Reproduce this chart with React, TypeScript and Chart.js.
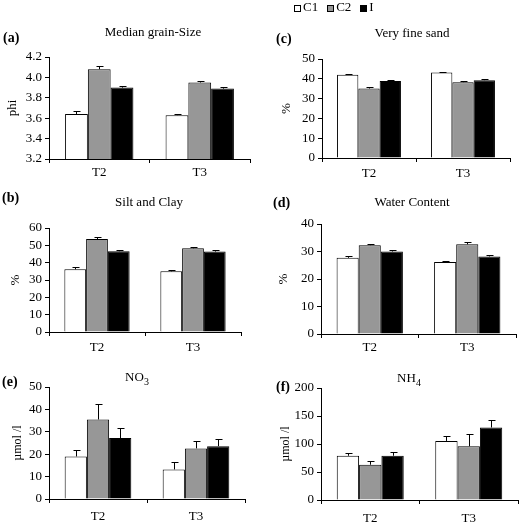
import React, { useEffect, useRef } from 'react';
import { Chart, registerables } from 'chart.js';

Chart.register(...registerables);

// ---------- data ----------
const categories = ['T2', 'T3'];
const seriesNames = ['C1', 'C2', 'I'];
const seriesColors = ['#ffffff', '#979797', '#000000'];

// (a) Median grain-Size (phi)
const grainC1 = [3.64, 3.63];
const grainC2 = [4.08, 3.95];
const grainI = [3.9, 3.89];
const grainC1Err = [0.035, 0.01];
const grainC2Err = [0.03, 0.01];
const grainIErr = [0.02, 0.02];
const grainTicks = [3.2, 3.4, 3.6, 3.8, 4.0, 4.2];

// (b) Silt and Clay (%)
const siltC1 = [36.2, 35.0];
const siltC2 = [53.6, 48.3];
const siltI = [46.6, 46.4];
const siltC1Err = [1.2, 0.5];
const siltC2Err = [1.0, 1.0];
const siltIErr = [0.9, 0.9];
const siltTicks = [0, 10, 20, 30, 40, 50, 60];

// (c) Very fine sand (%)
const sandC1 = [42.1, 43.2];
const sandC2 = [35.1, 38.3];
const sandI = [38.9, 39.3];
const sandC1Err = [0.4, 0.4];
const sandC2Err = [0.6, 0.4];
const sandIErr = [0.7, 0.6];
const sandTicks = [0, 10, 20, 30, 40, 50];

// (d) Water Content (%)
const waterC1 = [27.7, 26.2];
const waterC2 = [32.3, 32.6];
const waterI = [30.0, 28.2];
const waterC1Err = [0.7, 0.2];
const waterC2Err = [0.5, 0.9];
const waterIErr = [0.4, 0.5];
const waterTicks = [0, 10, 20, 30, 40];

// (e) NO3 (µmol/l)
const no3C1 = [19.0, 13.2];
const no3C2 = [35.5, 22.6];
const no3I = [27.2, 23.6];
const no3C1Err = [2.7, 3.4];
const no3C2Err = [6.8, 3.3];
const no3IErr = [4.7, 3.1];
const no3Ticks = [0, 10, 20, 30, 40, 50];

// (f) NH4 (µmol/l)
const nh4C1 = [79, 105.5];
const nh4C2 = [63, 96];
const nh4I = [79, 129.5];
const nh4C1Err = [4.5, 8.5];
const nh4C2Err = [6, 21.5];
const nh4IErr = [7.5, 14];
const nh4Ticks = [0, 50, 100, 150, 200];

// ---------- styling ----------
const FONT = '"Liberation Serif", "Times New Roman", serif';
const FS = 13;

type Spec = {
  key: string;
  label: string;
  title: string;
  sub?: string;
  yTitle: string;
  yTitleSize: number;
  values: number[][];
  errors: number[][];
  ticks: number[];
  decimals: number;
  box: { x: number; y: number; w: number; h: number };
  area: { left: number; right: number; top: number; bottom: number };
  labelPos: { x: number; y: number };
  titlePos: { x: number; y: number };
  yTitleCenter: number;
  xPad: number;
  legend?: { x: number; y: number };
};

const panels: Spec[] = [
  {
    key: 'a', label: '(a)', title: 'Median grain-Size', yTitle: 'phi', yTitleSize: 13,
    values: [grainC1, grainC2, grainI], errors: [grainC1Err, grainC2Err, grainIErr],
    ticks: grainTicks, decimals: 1,
    box: { x: 0, y: 0, w: 260, h: 185 },
    area: { left: 49, right: 250, top: 57, bottom: 159 },
    labelPos: { x: 3, y: 38 }, titlePos: { x: 153, y: 33 }, yTitleCenter: 13, xPad: 2,
  },
  {
    key: 'c', label: '(c)', title: 'Very fine sand', yTitle: '%', yTitleSize: 13,
    values: [sandC1, sandC2, sandI], errors: [sandC1Err, sandC2Err, sandIErr],
    ticks: sandTicks, decimals: 0,
    box: { x: 260, y: 0, w: 261, h: 185 },
    area: { left: 322, right: 510, top: 59, bottom: 158 },
    labelPos: { x: 276, y: 39 }, titlePos: { x: 412, y: 34 }, yTitleCenter: 287, xPad: 4,
    legend: { x: 294, y: 8 },
  },
  {
    key: 'b', label: '(b)', title: 'Silt and Clay', yTitle: '%', yTitleSize: 13,
    values: [siltC1, siltC2, siltI], errors: [siltC1Err, siltC2Err, siltIErr],
    ticks: siltTicks, decimals: 0,
    box: { x: 0, y: 185, w: 260, h: 170 },
    area: { left: 49, right: 241, top: 228, bottom: 332 },
    labelPos: { x: 2, y: 198 }, titlePos: { x: 149, y: 203 }, yTitleCenter: 16, xPad: 4,
  },
  {
    key: 'd', label: '(d)', title: 'Water Content', yTitle: '%', yTitleSize: 13,
    values: [waterC1, waterC2, waterI], errors: [waterC1Err, waterC2Err, waterIErr],
    ticks: waterTicks, decimals: 0,
    box: { x: 260, y: 185, w: 261, h: 170 },
    area: { left: 321, right: 516, top: 224, bottom: 334 },
    labelPos: { x: 273, y: 203 }, titlePos: { x: 412, y: 203 }, yTitleCenter: 284, xPad: 2,
  },
  {
    key: 'e', label: '(e)', title: 'NO', sub: '3', yTitle: 'µmol /l', yTitleSize: 12,
    values: [no3C1, no3C2, no3I], errors: [no3C1Err, no3C2Err, no3IErr],
    ticks: no3Ticks, decimals: 0,
    box: { x: 0, y: 355, w: 260, h: 172 },
    area: { left: 49, right: 245, top: 387, bottom: 499 },
    labelPos: { x: 2, y: 382 }, titlePos: { x: 137, y: 378 }, yTitleCenter: 18, xPad: 6,
  },
  {
    key: 'f', label: '(f)', title: 'NH', sub: '4', yTitle: 'µmol /l', yTitleSize: 12,
    values: [nh4C1, nh4C2, nh4I], errors: [nh4C1Err, nh4C2Err, nh4IErr],
    ticks: nh4Ticks, decimals: 0,
    box: { x: 260, y: 355, w: 261, h: 172 },
    area: { left: 321, right: 518, top: 388, bottom: 500 },
    labelPos: { x: 276, y: 387 }, titlePos: { x: 409, y: 379 }, yTitleCenter: 286, xPad: 7,
  },
];

// ---------- plugins ----------
const errorBarPlugin = {
  id: 'errorBars',
  afterDatasetsDraw(chart: any, _args: any, opts: any) {
    const errs: number[][] = opts.errors || [];
    const ctx = chart.ctx;
    const yScale = chart.scales.y;
    ctx.save();
    ctx.strokeStyle = '#000';
    ctx.lineWidth = 1;
    chart.data.datasets.forEach((ds: any, di: number) => {
      const meta = chart.getDatasetMeta(di);
      meta.data.forEach((bar: any, i: number) => {
        const v = ds.data[i] as number;
        const e = errs[di] ? errs[di][i] : 0;
        if (!e) return;
        const x = Math.round(bar.x) + 0.5;
        const y0 = yScale.getPixelForValue(v);
        const y1 = Math.round(yScale.getPixelForValue(v + e)) + 0.5;
        ctx.beginPath();
        ctx.moveTo(x, y0);
        ctx.lineTo(x, y1);
        ctx.moveTo(x - 3, y1);
        ctx.lineTo(x + 4, y1);
        ctx.stroke();
      });
    });
    ctx.restore();
  },
};

const panelTextPlugin = {
  id: 'panelText',
  afterDraw(chart: any, _args: any, opts: any) {
    const ctx = chart.ctx;
    const ox = opts.offsetX || 0;
    const oy = opts.offsetY || 0;
    ctx.save();
    ctx.fillStyle = '#000';
    ctx.textBaseline = 'middle';
    ctx.textAlign = 'left';

    // panel letter
    ctx.font = `bold 14px ${FONT}`;
    ctx.fillText(opts.label, opts.labelX - ox, opts.labelY - oy);

    // title (with optional subscript)
    ctx.font = `${FS}px ${FONT}`;
    const mainW = ctx.measureText(opts.title).width;
    let subW = 0;
    if (opts.sub) {
      ctx.font = `10px ${FONT}`;
      subW = ctx.measureText(opts.sub).width;
    }
    const tx = opts.titleX - ox - (mainW + subW) / 2;
    const ty = opts.titleY - oy;
    ctx.font = `${FS}px ${FONT}`;
    ctx.fillText(opts.title, tx, ty);
    if (opts.sub) {
      ctx.font = `10px ${FONT}`;
      ctx.fillText(opts.sub, tx + mainW, ty + 4);
    }

    // figure legend
    if (opts.legend) {
      let lx = opts.legend.x - ox;
      const ly = opts.legend.y - oy;
      const box = 7;
      ctx.font = `${FS}px ${FONT}`;
      ctx.lineWidth = 1;
      ctx.strokeStyle = '#000';
      chart.data.datasets.forEach((ds: any) => {
        ctx.fillStyle = ds.backgroundColor;
        ctx.fillRect(Math.round(lx), Math.round(ly - box / 2), box, box);
        ctx.strokeRect(Math.round(lx) + 0.5, Math.round(ly - box / 2) + 0.5, box - 1, box - 1);
        ctx.fillStyle = '#000';
        const textX = lx + box + 2;
        ctx.fillText(ds.label, textX, ly);
        lx = textX + ctx.measureText(ds.label).width + 9;
      });
    }
    ctx.restore();
  },
};

function buildConfig(s: Spec): any {
  const { box, area } = s;
  const font = { family: FONT, size: FS };
  return {
    type: 'bar',
    data: {
      labels: categories,
      datasets: s.values.map((vals, i) => ({
        label: seriesNames[i],
        data: vals,
        backgroundColor: seriesColors[i],
        borderColor: '#000',
        borderWidth: 1,
        barPercentage: 1,
        categoryPercentage: 0.68,
      })),
    },
    options: {
      animation: false,
      responsive: false,
      maintainAspectRatio: false,
      devicePixelRatio: 1,
      events: [],
      layout: {
        padding: {
          top: area.top - box.y,
          right: box.x + box.w - area.right,
          left: 0,
          bottom: 0,
        },
      },
      plugins: {
        legend: { display: false },
        title: { display: false },
        tooltip: { enabled: false },
        errorBars: { errors: s.errors },
        panelText: {
          offsetX: box.x,
          offsetY: box.y,
          label: s.label,
          labelX: s.labelPos.x,
          labelY: s.labelPos.y,
          title: s.title,
          sub: s.sub,
          titleX: s.titlePos.x,
          titleY: s.titlePos.y,
          legend: s.legend,
        },
      },
      scales: {
        x: {
          type: 'category',
          offset: true,
          grid: {
            offset: true,
            drawOnChartArea: false,
            drawTicks: true,
            tickLength: 4,
            color: '#000',
            lineWidth: 1,
          },
          border: { display: true, color: '#000', width: 1 },
          ticks: { color: '#000', font, padding: s.xPad, maxRotation: 0, autoSkip: false },
          afterFit: (sc: any) => {
            sc.height = box.y + box.h - area.bottom;
          },
        },
        y: {
          type: 'linear',
          min: s.ticks[0],
          max: s.ticks[s.ticks.length - 1],
          afterBuildTicks: (sc: any) => {
            sc.ticks = s.ticks.map((v) => ({ value: v }));
          },
          ticks: {
            color: '#000',
            font,
            padding: 3,
            autoSkip: false,
            callback: (v: any) => Number(v).toFixed(s.decimals),
          },
          grid: {
            drawOnChartArea: false,
            drawTicks: true,
            tickLength: 4,
            color: '#000',
            lineWidth: 1,
          },
          border: { display: true, color: '#000', width: 1 },
          title: {
            display: true,
            text: s.yTitle,
            color: '#000',
            font: { family: FONT, size: s.yTitleSize },
            padding: { top: s.yTitleCenter - box.x - (s.yTitleSize * 1.2) / 2, bottom: 0 },
          },
          afterFit: (sc: any) => {
            sc.width = area.left - box.x;
          },
        },
      },
    },
    plugins: [errorBarPlugin, panelTextPlugin],
  };
}

function Panel({ spec }: { spec: Spec }) {
  const ref = useRef<HTMLCanvasElement>(null);
  useEffect(() => {
    if (!ref.current) return;
    const chart = new Chart(ref.current, buildConfig(spec));
    return () => chart.destroy();
  }, [spec]);
  const { box } = spec;
  return (
    <canvas
      ref={ref}
      width={box.w}
      height={box.h}
      style={{ position: 'absolute', left: box.x, top: box.y, width: box.w, height: box.h }}
    />
  );
}

export default function App() {
  return (
    <div
      style={{
        position: 'absolute',
        left: 0,
        top: 0,
        width: 521,
        height: 527,
        background: '#ffffff',
        overflow: 'hidden',
      }}
    >
      {panels.map((p) => (
        <Panel key={p.key} spec={p} />
      ))}
    </div>
  );
}
